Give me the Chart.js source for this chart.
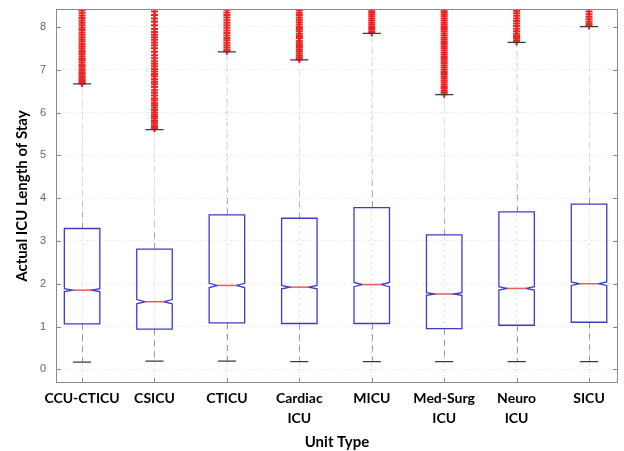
<!DOCTYPE html>
<html>
<head>
<meta charset="utf-8">
<script src="https://cdn.jsdelivr.net/npm/chart.js@4"></script>
<style>
    html, body { margin: 0; padding: 0; background: #fff; }
</style>
</head>
<body>
<canvas id="chart" width="624" height="451"></canvas>
<script>
// Box plot summary values
const units = [['CCU-CTICU'], ['CSICU'], ['CTICU'], ['Cardiac', 'ICU'], ['MICU'], ['Med-Surg', 'ICU'], ['Neuro', 'ICU'], ['SICU']];
const lowerWhisker = [0.17, 0.19, 0.19, 0.18, 0.18, 0.18, 0.18, 0.18];
const q1 = [1.06, 0.94, 1.085, 1.07, 1.07, 0.95, 1.03, 1.10];
const median = [1.85, 1.58, 1.96, 1.92, 1.98, 1.76, 1.89, 2.00];
const q3 = [3.29, 2.81, 3.61, 3.53, 3.78, 3.14, 3.68, 3.86];
const upperWhisker = [6.67, 5.60, 7.42, 7.23, 7.85, 6.42, 7.64, 8.01];
const notchHalf = [0.035, 0.05, 0.05, 0.04, 0.05, 0.03, 0.04, 0.04];
const yTicks = [0, 1, 2, 3, 4, 5, 6, 7, 8];

// Outliers (red +), only the part visible below the top of the axes
const outCCU = [6.68, 6.71, 6.74, 6.78, 6.82, 6.85, 6.9, 6.94, 6.99, 7.03, 7.08, 7.12, 7.17, 7.22, 7.26, 7.31, 7.36, 7.41, 7.45, 7.5, 7.55, 7.6, 7.66, 7.71, 7.76, 7.82, 7.87, 7.93, 7.98, 8.04, 8.1, 8.15, 8.21, 8.27, 8.33, 8.39];
const outCSICU = [5.62, 5.66, 5.7, 5.75, 5.8, 5.86, 5.9, 5.95, 6.0, 6.06, 6.12, 6.17, 6.22, 6.28, 6.33, 6.4, 6.46, 6.52, 6.6, 6.66, 6.72, 6.78, 6.85, 6.9, 6.96, 7.02, 7.08, 7.14, 7.2, 7.27, 7.34, 7.42, 7.5, 7.57, 7.64, 7.7, 7.76, 7.82, 7.88, 7.95, 8.04, 8.12, 8.2, 8.28, 8.36];
const outCTICU = [7.43, 7.47, 7.52, 7.57, 7.63, 7.69, 7.74, 7.8, 7.86, 7.92, 7.98, 8.04, 8.1, 8.16, 8.22, 8.28, 8.34, 8.4];
const outCardiac = [7.24, 7.28, 7.33, 7.38, 7.43, 7.48, 7.53, 7.58, 7.63, 7.68, 7.74, 7.79, 7.84, 7.9, 7.95, 8.0, 8.06, 8.11, 8.17, 8.22, 8.28, 8.33, 8.39];
const outMICU = [7.86, 7.9, 7.95, 8.0, 8.05, 8.1, 8.15, 8.2, 8.25, 8.3, 8.35, 8.4];
const outMedSurg = [6.43, 6.47, 6.51, 6.56, 6.6, 6.65, 6.7, 6.75, 6.8, 6.85, 6.9, 6.95, 7.0, 7.05, 7.1, 7.15, 7.2, 7.25, 7.3, 7.35, 7.4, 7.45, 7.5, 7.55, 7.6, 7.65, 7.7, 7.75, 7.8, 7.85, 7.9, 7.95, 8.0, 8.05, 8.1, 8.15, 8.2, 8.25, 8.3, 8.35, 8.4];
const outNeuro = [7.65, 7.69, 7.74, 7.79, 7.84, 7.9, 7.96, 8.02, 8.08, 8.14, 8.2, 8.26, 8.32, 8.38];
const outSICU = [8.02, 8.07, 8.12, 8.18, 8.24, 8.3, 8.36];
const outliers = [outCCU, outCSICU, outCTICU, outCardiac, outMICU, outMedSurg, outNeuro, outSICU];

const outlierPoints = [];
outliers.forEach((list, i) => {
    list.forEach(v => outlierPoints.push({ x: i + 1, y: v }));
});

const BOX_HALF = 0.245;
const NOTCH_INSET = 0.115;
const CAP_HALF = 0.125;
const labelFont = 'Lato, "Open Sans", sans-serif';

// Draws the notched boxes, whiskers, inward ticks and the axes box
const boxPlotPlugin = {
    id: 'boxPlot',
    beforeDatasetsDraw(chart) {
        const { ctx, scales: { x, y } } = chart;
        ctx.save();
        ctx.lineWidth = 1;
        ctx.setLineDash([6, 5]);
        units.forEach((u, i) => {
            const cx = Math.round(x.getPixelForValue(i + 1)) + 0.5;
            const yBox = y.getPixelForValue(q3[i]);
            const yTop = y.getPixelForValue(upperWhisker[i]);
            // upper whisker fades out away from the box, as in the scanned figure
            const grad = ctx.createLinearGradient(0, yBox, 0, yTop);
            grad.addColorStop(0, '#999');
            grad.addColorStop(Math.min(1, 45 / (yBox - yTop)), '#dcdcdc');
            grad.addColorStop(1, '#e2e2e2');
            ctx.strokeStyle = grad;
            ctx.beginPath();
            ctx.moveTo(cx, yBox);
            ctx.lineTo(cx, yTop);
            ctx.stroke();

            ctx.strokeStyle = '#999';
            ctx.beginPath();
            ctx.moveTo(cx, y.getPixelForValue(q1[i]));
            ctx.lineTo(cx, y.getPixelForValue(lowerWhisker[i]));
            ctx.stroke();
        });
        ctx.restore();
    },
    afterDatasetsDraw(chart) {
        const { ctx, chartArea: area, scales: { x, y } } = chart;
        ctx.save();
        units.forEach((u, i) => {
            const c = i + 1;
            const xl = x.getPixelForValue(c - BOX_HALF);
            const xr = x.getPixelForValue(c + BOX_HALF);
            const xil = x.getPixelForValue(c - BOX_HALF + NOTCH_INSET);
            const xir = x.getPixelForValue(c + BOX_HALF - NOTCH_INSET);
            const yq1 = y.getPixelForValue(q1[i]);
            const yq3 = y.getPixelForValue(q3[i]);
            const ym = y.getPixelForValue(median[i]);
            const yn1 = y.getPixelForValue(median[i] - notchHalf[i]);
            const yn2 = y.getPixelForValue(median[i] + notchHalf[i]);

            // caps
            ctx.strokeStyle = '#3a3a3a';
            ctx.lineWidth = 1.2;
            ctx.beginPath();
            [upperWhisker[i], lowerWhisker[i]].forEach(v => {
                const py = y.getPixelForValue(v);
                ctx.moveTo(x.getPixelForValue(c - CAP_HALF), py);
                ctx.lineTo(x.getPixelForValue(c + CAP_HALF), py);
            });
            ctx.stroke();

            // notched box
            ctx.strokeStyle = '#3c3cc8';
            ctx.lineWidth = 1.3;
            ctx.beginPath();
            ctx.moveTo(xl, yq1);
            ctx.lineTo(xr, yq1);
            ctx.lineTo(xr, yn1);
            ctx.lineTo(xir, ym);
            ctx.lineTo(xr, yn2);
            ctx.lineTo(xr, yq3);
            ctx.lineTo(xl, yq3);
            ctx.lineTo(xl, yn2);
            ctx.lineTo(xil, ym);
            ctx.lineTo(xl, yn1);
            ctx.closePath();
            ctx.stroke();

            // median
            ctx.strokeStyle = '#ee5a5a';
            ctx.lineWidth = 1.5;
            ctx.beginPath();
            ctx.moveTo(xil, ym);
            ctx.lineTo(xir, ym);
            ctx.stroke();
        });

        // inward tick marks
        ctx.strokeStyle = '#8a8a8a';
        ctx.lineWidth = 1;
        ctx.beginPath();
        yTicks.forEach(v => {
            const py = Math.round(y.getPixelForValue(v)) + 0.5;
            ctx.moveTo(area.left, py);
            ctx.lineTo(area.left + 5, py);
            ctx.moveTo(area.right, py);
            ctx.lineTo(area.right - 5, py);
        });
        units.forEach((u, i) => {
            const px = Math.round(x.getPixelForValue(i + 1)) + 0.5;
            ctx.moveTo(px, area.bottom);
            ctx.lineTo(px, area.bottom - 5);
        });
        ctx.stroke();

        // axes box
        ctx.strokeRect(area.left + 0.5, area.top + 0.5, area.right - area.left - 1, area.bottom - area.top - 1);
        ctx.restore();
    }
};

new Chart(document.getElementById('chart'), {
    type: 'scatter',
    data: {
        datasets: [{
            label: 'Outliers',
            data: outlierPoints,
            pointStyle: 'cross',
            pointRadius: 3.5,
            pointBorderWidth: 2,
            borderColor: '#ec2424',
            backgroundColor: '#ec2424'
        }]
    },
    options: {
        responsive: false,
        devicePixelRatio: 1,
        animation: false,
        layout: { padding: { top: 9, right: 1, left: 0, bottom: 0 } },
        plugins: {
            legend: { display: false },
            tooltip: { enabled: false }
        },
        scales: {
            x: {
                type: 'linear',
                min: 0.64,
                max: 8.4,
                afterBuildTicks: axis => { axis.ticks = units.map((u, i) => ({ value: i + 1 })); },
                afterFit: axis => {
                    axis.height = 68;
                    axis.paddingLeft = 0;
                    axis.paddingRight = 0;
                },
                ticks: {
                    autoSkip: false,
                    maxRotation: 0,
                    padding: 6,
                    color: '#000',
                    font: { family: labelFont, size: 14, weight: 'bold', lineHeight: 1.4 },
                    callback: value => units[value - 1]
                },
                grid: { color: 'rgba(0,0,0,0.1)', drawTicks: false },
                border: { display: false, dash: [3, 3] },
                title: {
                    display: true,
                    text: 'Unit Type',
                    color: '#000',
                    font: { family: labelFont, size: 15, weight: 'bold' },
                    padding: { top: 0, bottom: 0 }
                }
            },
            y: {
                min: -0.32,
                max: 8.42,
                afterBuildTicks: axis => { axis.ticks = yTicks.map(v => ({ value: v })); },
                afterFit: axis => {
                    axis.width = 56;
                    axis.paddingTop = 0;
                    axis.paddingBottom = 0;
                },
                ticks: {
                    padding: 10,
                    color: '#666',
                    font: { family: '"Liberation Sans", Arial, sans-serif', size: 11 }
                },
                grid: { color: 'rgba(0,0,0,0.07)', drawTicks: false },
                border: { display: false, dash: [3, 3] },
                title: {
                    display: true,
                    text: 'Actual ICU Length of Stay',
                    color: '#000',
                    font: { family: labelFont, size: 15, weight: 'bold' },
                    padding: { top: 13, bottom: 0 }
                }
            }
        }
    },
    plugins: [boxPlotPlugin]
});
</script>
</body>
</html>
